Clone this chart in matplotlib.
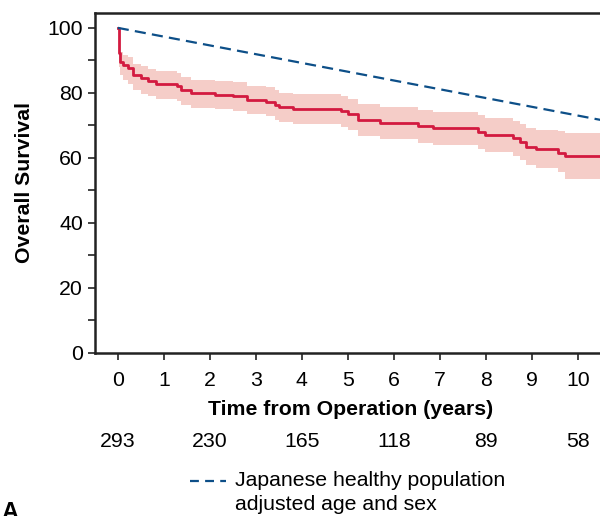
import matplotlib.pyplot as plt
import matplotlib
from matplotlib.lines import Line2D
from matplotlib.ticker import MultipleLocator

# Kaplan-Meier steps
times = [0, 0.02, 0.04, 0.12, 0.22, 0.33, 0.51, 0.66, 0.84, 1.28, 1.38, 1.6, 2.11, 2.5, 2.8,
         3.23, 3.41, 3.5, 3.81, 4.86, 5.0, 5.22, 5.7, 6.53, 6.86, 7.83, 7.98, 8.6, 8.74,
         8.88, 9.1, 9.57, 9.72, 10.6]
survival = [100, 92.2, 89.6, 88.6, 87.6, 85.5, 84.5, 83.5, 82.7, 82.0, 80.9, 79.9, 79.4, 78.9,
            77.8, 77.3, 76.3, 75.6, 75.0, 74.3, 73.4, 71.7, 70.7, 69.8, 69.1, 68.1, 67.1,
            66.0, 65.0, 63.5, 62.7, 61.6, 60.6, 60.6]
upper = [100, 95.0, 92.5, 91.8, 91.0, 89.0, 88.2, 87.3, 86.6, 86.0, 85.0, 84.0, 83.6, 83.2,
         82.2, 81.7, 80.8, 80.1, 79.6, 79.0, 78.1, 76.6, 75.6, 74.8, 74.2, 73.3, 72.4,
         71.4, 70.5, 69.2, 68.5, 68.4, 67.6, 67.6]
lower = [100, 88.0, 85.5, 84.0, 82.8, 80.8, 79.8, 78.9, 78.2, 77.5, 76.4, 75.5, 75.0, 74.4,
         73.4, 72.8, 71.8, 71.0, 70.4, 69.6, 68.6, 66.8, 65.7, 64.7, 63.9, 62.8, 61.7,
         60.5, 59.4, 57.7, 56.8, 55.6, 53.5, 53.5]

# expected survival of the general population
pop_years = [0, 10.6]
pop_survival = [100, 71.4]

risk_years = [0, 2, 4, 6, 8, 10]
at_risk = ['293', '230', '165', '118', '89', '58']

matplotlib.rcParams["font.family"] = ["Liberation Sans", "DejaVu Sans"]
fs = 15.3

fig = plt.figure(figsize=(6, 5.16), dpi=100)
ax = fig.add_axes([0.158, 0.316, 0.851, 0.659])

ax.fill_between(times, lower, upper, step='post', color='#f5cdc8', lw=0)
ax.step(times, survival, where='post', color='#d31a40', lw=2.0)
ax.plot(pop_years, pop_survival, color='#0d4f88', lw=1.6, dashes=(5, 2.8))

ax.set_xlim(-0.5, 10.6)
ax.set_ylim(0, 104.6)
ax.set_xticks(range(0, 11))
ax.yaxis.set_major_locator(MultipleLocator(20))
ax.yaxis.set_minor_locator(MultipleLocator(10))
ax.tick_params(axis='both', which='both', direction='out', length=5, width=1.2,
               labelsize=fs, color='#222222')
ax.tick_params(axis='x', pad=8)
for side in ['left', 'bottom', 'top', 'right']:
    ax.spines[side].set_linewidth(1.8)
    ax.spines[side].set_color('#222222')

ax.set_xlabel("Time from Operation (years)", fontsize=fs, fontweight='bold', labelpad=7)
ax.set_ylabel("Overall Survival", fontsize=fs, fontweight='bold', labelpad=10)

for x, n in zip(risk_years, at_risk):
    ax.annotate(n, xy=(x, -0.259), xycoords=('data', 'axes fraction'),
                ha='center', va='center', fontsize=fs)

# legend drawn by hand so the dash lines up with the first text line
fig.add_artist(Line2D([190 / 600, 226 / 600], [1 - 481 / 516, 1 - 481 / 516],
                      color='#0d4f88', lw=1.6, dashes=(4, 2.8)))
fig.text(235 / 600, 1 - 481 / 516, "Japanese healthy population", fontsize=fs,
         va='center', ha='left')
fig.text(235 / 600, 1 - 505 / 516, "adjusted age and sex", fontsize=fs,
         va='center', ha='left')

fig.text(0.002, -0.015, "A", fontsize=17, fontweight='bold', va='bottom', ha='left')

plt.savefig('out.png', dpi=100)
